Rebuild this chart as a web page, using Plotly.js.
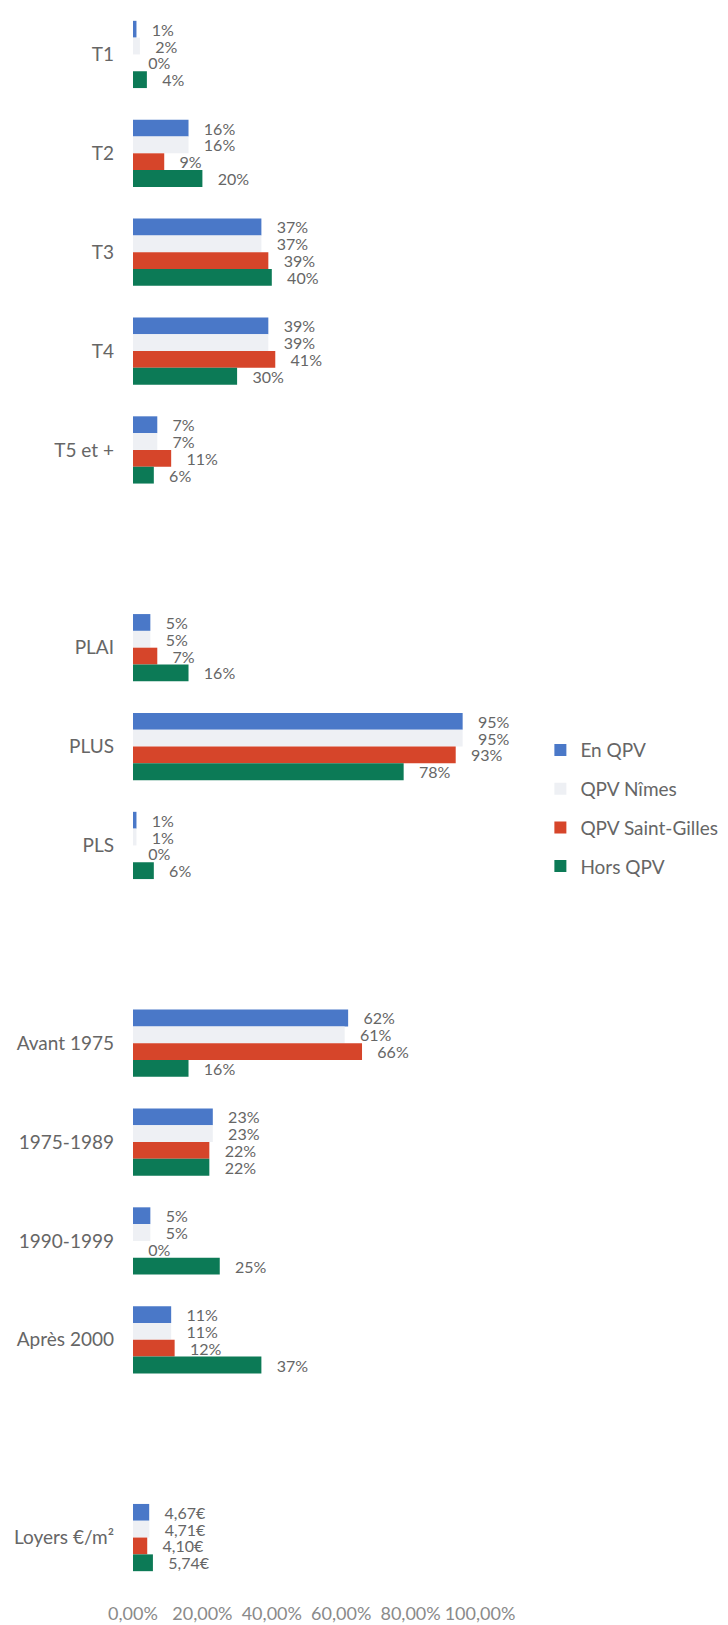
<!DOCTYPE html>
<html>
<head>
<meta charset="utf-8">
<script src="https://cdn.plot.ly/plotly-3.0.1.min.js"></script>
<style>
  html, body { margin: 0; padding: 0; background: #ffffff; }
  #chart { width: 728px; height: 1625px; }
</style>
</head>
<body>
<div id="chart"></div>
<script>
// Categories (blank entries are the spacer rows between the blocks)
const categories = ["T1", "T2", "T3", "T4", "T5 et +", " ",
  "PLAI", "PLUS", "PLS", "  ",
  "Avant 1975", "1975-1989", "1990-1999", "Après 2000", "   ",
  "Loyers €/m²"];

// Percent values (null = spacer); last value is the rent in €/m²
const enQPV          = [1, 16, 37, 39, 7, null, 5, 95, 1, null, 62, 23, 5, 11, null, 4.67];
const qpvNimes       = [2, 16, 37, 39, 7, null, 5, 95, 1, null, 61, 23, 5, 11, null, 4.71];
const qpvSaintGilles = [0, 9, 39, 41, 11, null, 7, 93, 0, null, 66, 22, 0, 12, null, 4.10];
const horsQPV        = [4, 20, 40, 30, 6, null, 16, 78, 6, null, 16, 22, 25, 37, null, 5.74];

const seriesNames = ["En QPV", "QPV Nîmes", "QPV Saint-Gilles", "Hors QPV"];
const seriesColors = ["#4a78c8", "#eef0f4", "#d6452a", "#0c7a56"];
const seriesData = [enQPV, qpvNimes, qpvSaintGilles, horsQPV];
const rentCategory = "Loyers €/m²";

const PAD = "\u00a0\u00a0\u00a0";

function label(v, cat) {
  if (v === null) return "";
  if (cat === rentCategory) return PAD + v.toFixed(2).replace(".", ",") + "€";
  return PAD + Math.round(v) + "%";
}

const traces = seriesData.map((vals, i) => ({
  type: "bar",
  orientation: "h",
  name: seriesNames[i],
  legendgroup: "g" + i,
  y: categories,
  x: vals.map(v => v === null ? null : v / 100),
  text: vals.map((v, k) => label(v, categories[k])),
  textposition: "outside",
  cliponaxis: false,
  constraintext: "none",
  textangle: 0,
  textfont: { family: "Lato, 'Open Sans', sans-serif", size: 16, color: "#666666" },
  marker: { color: seriesColors[i], line: { width: 0 } },
  hoverinfo: "skip"
}));

const layout = {
  width: 728,
  height: 1625,
  paper_bgcolor: "#ffffff",
  plot_bgcolor: "#ffffff",
  separators: ", ",
  barmode: "group",
  bargap: 0.32,
  bargroupgap: 0,
  margin: { l: 133, r: 243, t: 4.5, b: 37.5, pad: 0 },
  font: { family: "Lato, 'Open Sans', sans-serif", color: "#666666" },
  showlegend: true,
  legend: {
    x: 1.174, xanchor: "left",
    y: 0.541, yanchor: "top",
    traceorder: "grouped",
    tracegroupgap: 11,
    font: { family: "Lato, 'Open Sans', sans-serif", size: 19, color: "#666666" },
    bgcolor: "rgba(0,0,0,0)",
    itemclick: false
  },
  xaxis: {
    range: [0, 1],
    tickvals: [0, 0.2, 0.4, 0.6, 0.8, 1.0],
    tickformat: ".2%",
    tickangle: 0,
    showgrid: false,
    zeroline: false,
    showline: false,
    ticks: "",
    ticklabelstandoff: 14,
    automargin: false,
    tickfont: { family: "Lato, 'Open Sans', sans-serif", size: 18, color: "#8a8a8a" },
    fixedrange: true
  },
  yaxis: {
    type: "category",
    categoryorder: "array",
    categoryarray: categories,
    autorange: "reversed",
    showgrid: false,
    zeroline: false,
    showline: false,
    ticks: "",
    ticklabelstandoff: 18,
    tickfont: { family: "Lato, 'Open Sans', sans-serif", size: 19, color: "#666666" },
    fixedrange: true
  }
};

Plotly.newPlot("chart", traces, layout, { displayModeBar: false, staticPlot: true });
</script>
</body>
</html>
